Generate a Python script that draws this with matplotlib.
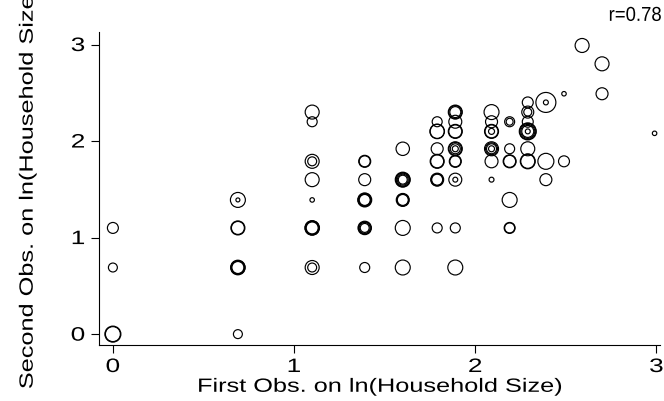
import numpy as np
import matplotlib.pyplot as plt
from matplotlib import patheffects
from matplotlib.transforms import Affine2D

plt.rcParams['font.family'] = ['Liberation Sans', 'DejaVu Sans']

# first and second observation on ln(household size), with weights
x = [0, 0, 0, 0,
     0.69, 0.69, 0.69, 0.69, 0.69, 0.69, 0.69, 0.69, 0.69,
     1.1, 1.1, 1.1, 1.1, 1.1, 1.1, 1.1, 1.1, 1.1, 1.1, 1.1, 1.1,
     1.39, 1.39, 1.39, 1.39, 1.39, 1.39, 1.39, 1.39, 1.39, 1.39, 1.39, 1.39,
     1.6, 1.6, 1.6, 1.6, 1.6, 1.6, 1.6, 1.6, 1.6, 1.6, 1.6,
     1.79, 1.79, 1.79, 1.79, 1.79, 1.79, 1.79, 1.79, 1.79, 1.79,
     1.89, 1.89, 1.89, 1.89, 1.89, 1.89, 1.89, 1.89, 1.89, 1.89, 1.89, 1.89, 1.89, 1.89, 1.89, 1.89,
     2.09, 2.09, 2.09, 2.09, 2.09, 2.09, 2.09, 2.09, 2.09, 2.09, 2.09,
     2.19, 2.19, 2.19, 2.19, 2.19, 2.19, 2.19, 2.19,
     2.29, 2.29, 2.29, 2.29, 2.29, 2.29, 2.29, 2.29, 2.29, 2.29, 2.29, 2.29,
     2.39, 2.39, 2.39, 2.39,
     2.49, 2.49,
     2.59,
     2.7, 2.7,
     2.99]
y = [1.1, 0.69, 0, 0,
     1.39, 1.39, 1.1, 1.1, 0.69, 0.69, 0.69, 0.69, 0,
     2.3, 2.2, 1.79, 1.79, 1.6, 1.39, 1.1, 1.1, 1.1, 1.1, 0.69, 0.69,
     1.79, 1.79, 1.6, 1.39, 1.39, 1.39, 1.39, 1.1, 1.1, 1.1, 1.1, 0.69,
     1.92, 1.6, 1.6, 1.6, 1.6, 1.6, 1.39, 1.39, 1.39, 1.1, 0.69,
     2.2, 2.1, 2.1, 1.92, 1.79, 1.79, 1.6, 1.6, 1.6, 1.1,
     2.3, 2.3, 2.3, 2.2, 2.1, 2.1, 1.92, 1.92, 1.92, 1.92, 1.79, 1.79, 1.6, 1.6, 1.1, 0.69,
     2.3, 2.2, 2.1, 2.1, 2.1, 1.92, 1.92, 1.92, 1.92, 1.79, 1.6,
     2.2, 2.2, 1.92, 1.79, 1.79, 1.39, 1.1, 1.1,
     2.4, 2.3, 2.3, 2.2, 2.1, 2.1, 2.1, 2.1, 2.1, 1.92, 1.79, 1.79,
     2.4, 2.4, 1.79, 1.6,
     2.49, 1.79,
     2.99,
     2.8, 2.49,
     2.08]
weight = [30, 20, 56, 64,
          56, 4, 42, 49, 36, 42, 49, 53, 20,
          49, 25, 49, 20, 49, 5, 36, 42, 49, 53, 49, 20,
          30, 36, 36, 30, 36, 42, 49, 45, 30, 20, 38, 25,
          45, 56, 42, 30, 20, 49, 36, 42, 30, 56, 56,
          25, 49, 53, 36, 49, 42, 30, 36, 42, 25,
          42, 49, 30, 42, 42, 49, 49, 40, 25, 9, 36, 30, 42, 6, 25, 56,
          56, 36, 49, 42, 9, 49, 36, 25, 9, 42, 6,
          25, 12, 25, 36, 42, 56, 25, 30,
          30, 36, 16, 30, 72, 64, 49, 36, 6, 49, 49, 56,
          100, 6, 64, 36,
          5, 30,
          49,
          49, 36,
          5]


class Stretch(patheffects.AbstractPathEffect):
    # widen the glyphs along the baseline (the original uses a wide font)
    def __init__(self, sx, anchor='center'):
        super().__init__()
        self.sx = sx
        self.anchor = anchor

    def draw_path(self, renderer, gc, tpath, affine, rgbFace=None):
        ext = tpath.get_extents()
        x0 = {'center': (ext.x0 + ext.x1) / 2, 'right': ext.x1, 'left': ext.x0}[self.anchor]
        pre = Affine2D().translate(-x0, 0).scale(self.sx, 1).translate(x0, 0)
        renderer.draw_path(gc, tpath, pre + affine, rgbFace)


fig = plt.figure(figsize=(6.64, 4.02), dpi=100)
ax = fig.add_axes([0.149, 0.139, 0.845, 0.779])

ax.scatter(x, y, s=np.array(weight) * 2.07, facecolors='none',
           edgecolors='black', linewidths=0.85)

ax.set_xlim(-0.077, 3.02)
ax.set_ylim(-0.114, 3.13)
ax.set_xticks([0, 1, 2, 3])
ax.set_yticks([0, 1, 2, 3])
ax.spines['top'].set_visible(False)
ax.spines['right'].set_visible(False)
for sp in ['left', 'bottom']:
    ax.spines[sp].set_linewidth(0.8)
ax.tick_params(direction='out', length=6, width=0.8, labelsize=14, pad=4)
for lab in ax.get_xticklabels():
    lab.set_path_effects([Stretch(1.35)])
for lab in ax.get_yticklabels():
    lab.set_path_effects([Stretch(1.35, 'right')])

xl = ax.set_xlabel('First Obs. on ln(Household Size)', fontsize=13.8, labelpad=2)
yl = ax.set_ylabel('Second Obs. on ln(Household Size)', fontsize=13.8, labelpad=27)
xl.set_path_effects([Stretch(1.32)])
yl.set_path_effects([Stretch(1.32)])
t = ax.set_title('r=0.78', loc='right', fontsize=14.5, pad=8, x=1.003)
t.set_path_effects([Stretch(0.92, 'right')])

fig.savefig('out.png', dpi=100)
